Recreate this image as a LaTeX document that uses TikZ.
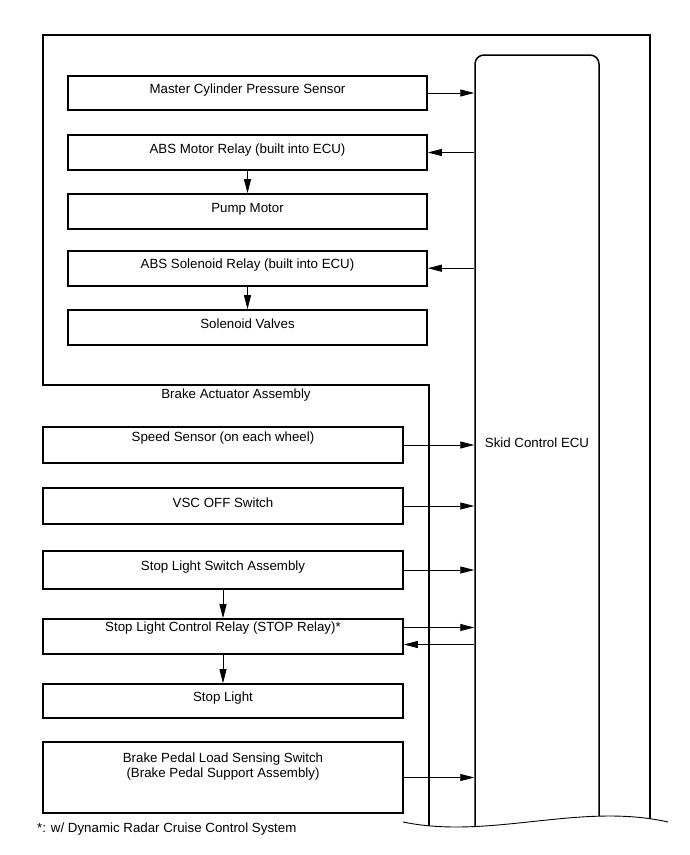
\documentclass[tikz,border=0pt]{standalone}
\usepackage{fontspec}
\setmainfont{Liberation Sans}
\usetikzlibrary{arrows.meta, positioning}

\tikzset{
  part/.style={draw, line width=1.6pt, inner sep=0pt,
    minimum width=359pt, minimum height=35pt,
    font=\fontsize{13.3}{15}\selectfont, align=center,
    text height=9.5pt, text depth=8pt},
  sig/.style={-{Triangle[length=14pt,width=7pt]}, line width=0.9pt},
  frame/.style={line width=1.5pt},
  txt/.style={inner sep=0pt, font=\fontsize{13.3}{15}\selectfont}
}

\begin{document}
\begin{tikzpicture}[x=1pt, y=-1pt]
  \useasboundingbox (0,0) rectangle (690,855);

  % Brake actuator
  \node[part, minimum height=34pt] (mcps) at (247.5,93)
        {Master Cylinder Pressure Sensor};
  \node[part] (absm) at (247.5,152.5) {ABS Motor Relay (built into ECU)};
  \node[part] (pump) at (247.5,211.5) {Pump Motor};
  \node[part] (abss) at (247.5,268.2) {ABS Solenoid Relay (built into ECU)};
  \node[part] (sol) at (247.5,327.5) {Solenoid Valves};

  % Other inputs
  \node[part, minimum width=360pt, minimum height=36pt, text depth=16pt]
        (spd) at (223,445) {Speed Sensor (on each wheel)};
  \node[part, minimum width=360pt, minimum height=36pt, text depth=6pt]
        (vsc) at (223,506) {VSC OFF Switch};
  \node[part, minimum width=360pt, minimum height=38pt]
        (sls) at (223,570) {Stop Light Switch Assembly};
  \node[part, minimum width=360pt, text depth=19pt]
        (rly) at (223,636.5) {Stop Light Control Relay (STOP Relay)*};
  \node[part, minimum width=360pt, minimum height=34pt]
        (stl) at (223,701) {Stop Light};
  \node[part, minimum width=360pt, minimum height=71pt, text depth=9pt]
        (bp) at (223,777.5)
        {Brake Pedal Load Sensing Switch\\(Brake Pedal Support Assembly)};

  % ECU
  \node[draw, line width=1.5pt, rounded corners=9pt, inner sep=0pt,
        minimum width=124pt, minimum height=786pt,
        font=\fontsize{13.3}{15}\selectfont,
        text height=9.5pt, text depth=10pt] (ecu) at (537,448)
        {Skid Control ECU};

  % Assembly outline
  \draw[frame] (429,840) -- (429,385) -- (43,385) -- (43,35)
        -- (650,35) -- (650,840);
  \node[txt] (bact) at (236,395) {Brake Actuator Assembly};

  % Signals
  \draw[sig] (mcps.east) -- (mcps.east -| ecu.west);
  \draw[sig] (absm.east -| ecu.west) -- (absm.east);
  \draw[sig] (abss.east -| ecu.west) -- (abss.east);
  \draw[sig] (absm) -- (pump);
  \draw[sig] (abss) -- (sol);
  \draw[sig] (spd.east) -- (spd.east -| ecu.west);
  \draw[sig] (vsc.east) -- (vsc.east -| ecu.west);
  \draw[sig] (sls.east) -- (sls.east -| ecu.west);
  \draw[sig] ([yshift=9pt]rly.east) -- ([yshift=9pt]rly.east -| ecu.west);
  \draw[sig] ([yshift=-8pt]rly.east -| ecu.west) -- ([yshift=-8pt]rly.east);
  \draw[sig] (sls) -- (rly);
  \draw[sig] (rly) -- (stl);
  \draw[sig] (bp.east) -- (bp.east -| ecu.west);

  % Break line
  \fill[white] (403,822) .. controls (490,840) and (580,802) .. (668,822)
        -- (668,850) -- (403,850) -- cycle;
  \draw[line width=0.9pt] (403,822) .. controls (490,840) and (580,802) .. (668,822);

  \node[txt, anchor=west] (note) at (37,829)
        {*: w/ Dynamic Radar Cruise Control System};
\end{tikzpicture}
\end{document}
